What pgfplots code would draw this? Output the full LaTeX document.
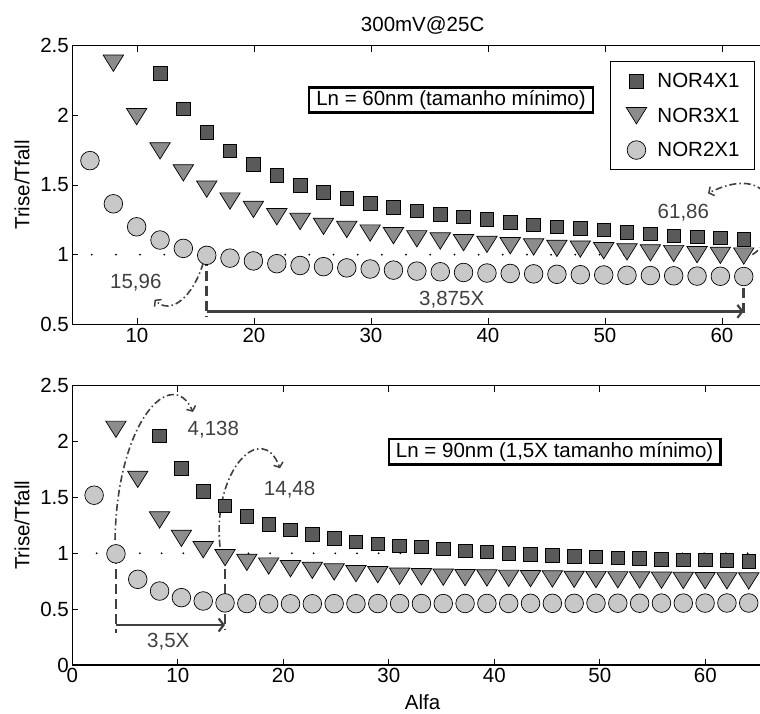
\documentclass[border=0pt]{standalone}
\usepackage{pgfplots}
\pgfplotsset{compat=1.18}
\usepackage{pgfplotstable}
\usepackage{fontspec}
\setmainfont{Liberation Sans}
\usetikzlibrary{arrows.meta}

\definecolor{sqc}{RGB}{90,90,90}
\definecolor{trc}{RGB}{140,140,140}
\definecolor{cic}{RGB}{200,200,200}
\definecolor{ann}{RGB}{64,64,64}

\pgfdeclareplotmark{dtri}{%
  \pgfpathmoveto{\pgfqpoint{-1.0\pgfplotmarksize}{0.8\pgfplotmarksize}}%
  \pgfpathlineto{\pgfqpoint{1.0\pgfplotmarksize}{0.8\pgfplotmarksize}}%
  \pgfpathlineto{\pgfqpoint{0pt}{-0.8\pgfplotmarksize}}%
  \pgfpathclose
  \pgfusepathqfillstroke}

\newcommand{\fs}{\fontsize{20.5}{24}\selectfont}

% ---------- top panel (Ln = 60nm) ----------
\pgfplotstableread{
x y
5.98 1.675
7.98 1.365
9.97 1.200
11.97 1.105
13.96 1.045
15.96 0.995
17.95 0.975
19.95 0.955
21.95 0.935
23.94 0.922
25.94 0.914
27.93 0.905
29.93 0.897
31.92 0.889
33.92 0.882
35.92 0.877
37.91 0.872
39.91 0.868
41.90 0.865
43.90 0.862
45.89 0.859
47.89 0.856
49.89 0.854
51.88 0.852
53.88 0.850
55.87 0.848
57.87 0.846
59.86 0.845
61.86 0.843
}\topnortwo
\pgfplotstableread{
x y
7.98 2.374
9.97 1.991
11.97 1.745
13.96 1.587
15.96 1.470
17.95 1.385
19.95 1.325
21.95 1.272
23.94 1.238
25.94 1.203
27.93 1.181
29.93 1.155
31.92 1.136
33.92 1.114
35.92 1.098
37.91 1.086
39.91 1.074
41.90 1.064
43.90 1.055
45.89 1.045
47.89 1.040
49.89 1.028
51.88 1.020
53.88 1.013
55.87 1.008
57.87 1.000
59.86 0.995
61.86 0.990
}\topnorthree
\pgfplotstableread{
x y
11.97 2.302
13.96 2.046
15.96 1.877
17.95 1.745
19.95 1.647
21.95 1.568
23.94 1.499
25.94 1.449
27.93 1.406
29.93 1.368
31.92 1.339
33.92 1.315
35.92 1.291
37.91 1.272
39.91 1.255
41.90 1.234
43.90 1.215
45.89 1.200
47.89 1.190
49.89 1.177
51.88 1.160
53.88 1.148
55.87 1.134
57.87 1.129
59.86 1.122
61.86 1.110
}\topnorfour

% ---------- bottom panel (Ln = 90nm) ----------
\pgfplotstableread{
x y
2.068 1.520
4.137 0.995
6.205 0.767
8.274 0.662
10.342 0.603
12.410 0.573
14.479 0.556
16.547 0.550
18.616 0.548
20.684 0.548
22.752 0.548
24.821 0.549
26.889 0.549
28.958 0.550
31.026 0.550
33.094 0.550
35.163 0.550
37.231 0.551
39.300 0.551
41.368 0.551
43.436 0.552
45.505 0.552
47.573 0.552
49.642 0.553
51.710 0.553
53.778 0.553
55.847 0.554
57.915 0.554
59.984 0.554
62.052 0.555
64.120 0.555
}\botnortwo
\pgfplotstableread{
x y
4.137 2.110
6.205 1.662
8.274 1.298
10.342 1.134
12.410 1.032
14.479 0.961
16.547 0.919
18.616 0.886
20.684 0.862
22.752 0.847
24.821 0.833
26.889 0.818
28.958 0.809
31.026 0.795
33.094 0.790
35.163 0.786
37.231 0.782
39.300 0.779
41.368 0.776
43.436 0.773
45.505 0.770
47.573 0.767
49.642 0.765
51.710 0.763
53.778 0.761
55.847 0.759
57.915 0.757
59.984 0.755
62.052 0.754
64.120 0.752
}\botnorthree
\pgfplotstableread{
x y
8.274 2.050
10.342 1.758
12.410 1.555
14.479 1.423
16.547 1.331
18.616 1.260
20.684 1.209
22.752 1.167
24.821 1.131
26.889 1.101
28.958 1.086
31.026 1.065
33.094 1.056
35.163 1.038
37.231 1.023
39.300 1.012
41.368 1.000
43.436 0.991
45.505 0.979
47.573 0.973
49.642 0.967
51.710 0.958
53.778 0.952
55.847 0.947
57.915 0.943
59.984 0.940
62.052 0.936
64.120 0.929
}\botnorfour

\pgfplotsset{
  myax/.style={
    scale only axis,
    width=700.7pt,
    axis line style={line width=1.1pt},
    every tick/.style={black, line width=0.9pt},
    major tick length=6pt,
    tick label style={font=\fs},
    label style={font=\fs},
    /pgf/number format/assume math mode=true,
    ylabel={Trise/Tfall},
    ylabel style={at={(axis description cs:-0.0718,0.5)}, anchor=center},
  },
}
\tikzset{
  sq/.style={only marks, mark=square*, mark size=6.8pt,
    mark options={fill=sqc, draw=black, line width=0.7pt}},
  tr/.style={only marks, mark=dtri, mark size=10.2pt,
    mark options={fill=trc, draw=black, line width=0.7pt}},
  ci/.style={only marks, mark=*, mark size=9.3pt,
    mark options={fill=cic, draw=black, line width=0.7pt}},
  dd/.style={ann, line width=1.6pt, dash pattern=on 7pt off 3pt on 1.5pt off 3pt,
    -{Straight Barb[length=4pt,width=10pt,line width=1.5pt]}},
  dv/.style={ann, line width=2.8pt, dash pattern=on 10pt off 5pt},
  ha/.style={ann, line width=2.8pt, -{Straight Barb[length=5pt,width=13pt,line width=2.2pt]}},
  lab/.style={text=ann, font=\fs},
}

\begin{document}
\begin{tikzpicture}[x=1pt,y=1pt]

% ===== top axis =====
\begin{axis}[myax,
  at={(72.3pt,388.7pt)}, anchor=south west,
  height=278.6pt,
  xmin=4.47, xmax=64.36, ymin=0.5, ymax=2.5,
  xtick={10,20,30,40,50,60},
  ytick={0.5,1,1.5,2,2.5},
  legend style={at={(0.974,0.945)}, anchor=north east, font=\fs,
    draw=black, line width=1pt, inner xsep=8pt, inner ysep=6pt,
    row sep=6.5pt, cells={anchor=west},
    nodes={inner xsep=6.8pt, inner ysep=6pt}},
  legend image code/.code={%
    \path[draw=none,fill=none] (-18pt,0pt) -- (14.2pt,0pt);
    \draw[#1] plot coordinates {(0pt,0pt)};},
]
\addplot[sq] table {\topnorfour};
\addlegendentry{NOR4X1}
\addplot[tr] table {\topnorthree};
\addlegendentry{NOR3X1}
\addplot[ci] table {\topnortwo};
\addlegendentry{NOR2X1}
\addplot[forget plot, black, line width=2pt, line cap=round,
  dash pattern=on 0pt off 24.18pt] coordinates {(6.13,1) (62.2,1)};

\node[draw=black, line width=2.4pt, fill=white, inner xsep=7pt, inner ysep=3pt, font=\fs]
  at (axis cs:36.84,2.11) {Ln = 60nm (tamanho mínimo)};

\draw[dv] (axis cs:15.96,0.99) -- (axis cs:15.96,0.555);
\draw[dv] (axis cs:61.86,0.87) -- (axis cs:61.86,0.565);
\draw[ha] (axis cs:15.96,0.593) -- (axis cs:61.86,0.593);
\draw[dd] (axis cs:15.66,0.94) .. controls (axis cs:14.8,0.70) and (axis cs:12.9,0.56) .. (axis cs:11.5,0.677);
\draw[dd] (axis cs:62.6,1.0) .. controls (axis cs:65.5,1.15) and (axis cs:65,1.7) .. (axis cs:58.8,1.44);
\node[lab] at (axis cs:9.9,0.799) {15,96};
\node[lab] at (axis cs:56.7,1.30) {61,86};
\node[lab] at (axis cs:36.9,0.677) {3,875X};
\end{axis}

% ===== bottom axis =====
\begin{axis}[myax,
  at={(72.3pt,48pt)}, anchor=south west,
  height=279.3pt,
  xmin=0, xmax=66.42, ymin=0, ymax=2.5,
  xtick={0,10,20,30,40,50,60},
  ytick={0,0.5,1,1.5,2,2.5},
]
\addplot[sq] table {\botnorfour};
\addplot[tr] table {\botnorthree};
\addplot[ci] table {\botnortwo};
\addplot[black, line width=2pt, line cap=round,
  dash pattern=on 0pt off 21.7pt] coordinates {(2.3,1) (64.2,1)};

\node[draw=black, line width=2.4pt, fill=white, inner xsep=7pt, inner ysep=3pt, font=\fs]
  at (axis cs:45.72,1.907) {Ln = 90nm (1,5X tamanho mínimo)};

\draw[dv] (axis cs:4.137,0.99) -- (axis cs:4.137,0.284);
\draw[dv] (axis cs:14.479,0.99) -- (axis cs:14.479,0.31);
\draw[ha] (axis cs:4.137,0.358) -- (axis cs:14.479,0.358);
\draw[dd] (axis cs:4.05,1.119) .. controls (axis cs:4.24,2.193) and (axis cs:9.45,2.686) .. (axis cs:11.44,2.265);
\draw[dd] (axis cs:14.0,1.059) .. controls (axis cs:13.24,1.746) and (axis cs:17.98,2.193) .. (axis cs:19.69,1.761);
\node[lab] at (axis cs:13.37,2.11) {4,138};
\node[lab] at (axis cs:20.6,1.567) {14,48};
\node[lab] at (axis cs:9.1,0.21) {3,5X};
\end{axis}

% title and x label
\node[font=\fs, anchor=base, inner sep=0pt] at (422.65,681.3) {300mV@25C};
\node[font=\fs, anchor=base, inner sep=0pt] at (422.65,4) {Alfa};

\pgfresetboundingbox
\path[use as bounding box] (0,0) rectangle (760,713);
\end{tikzpicture}
\end{document}
